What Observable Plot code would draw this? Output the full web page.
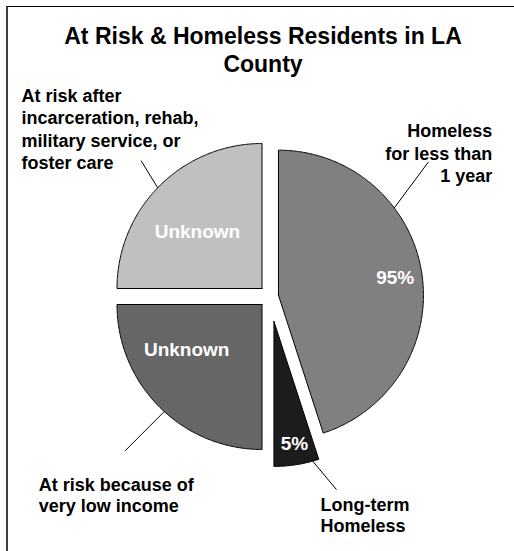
<!DOCTYPE html>
<html><head><meta charset="utf-8">
<script src="https://cdn.jsdelivr.net/npm/d3@7"></script>
<script src="https://cdn.jsdelivr.net/npm/@observablehq/plot@0.6"></script>
<style>
body{margin:0;background:#fff;font-family:"Liberation Sans",Arial,sans-serif;}
#wrap{position:relative;width:514px;height:551px;overflow:hidden;background:#fff;}
#frame{position:absolute;left:6px;top:6px;width:600px;height:600px;border-left:2px solid #404040;border-top:1px solid #000;}
#title{position:absolute;left:43px;width:440px;top:23px;text-align:center;font-weight:bold;font-size:23px;line-height:27.6px;color:#000;}
#chart{position:absolute;left:0;top:80px;}
</style></head><body>
<div id="wrap"><div id="frame"></div><div id="title"></div><div id="chart"></div></div>
<script>
// ---- data ----
const titleText = "At Risk & Homeless Residents in LA County";
const categories = ["Homeless for less than 1 year", "Long-term Homeless", "At risk because of very low income", "At risk after incarceration, rehab, military service, or foster care"];
const shares = [45, 5, 25, 25];
const valueLabels = ["95%", "5%", "Unknown", "Unknown"];
const outerLabels = ["Homeless\nfor less than\n1 year", "Long-term\nHomeless", "At risk because of\nvery low income", "At risk after\nincarceration, rehab,\nmilitary service, or\nfoster care"];

// ---- styles / layout ----
const fills = ["#808080", "#1c1c1c", "#666666", "#c0c0c0"];
const explode = [0.059, 0.174, 0.078, 0.078];           // fraction of radius
const labelAngle = [81.7, 170.5, 239, 311];             // degrees, clockwise from 12 o'clock
const labelRadius = [0.814, 0.853, 0.606, 0.59];
const leaderEdge = [53, 164.5, 222.4, 314];             // degrees
const leaderEnd = [[48.4, 1.383], [159.6, 1.238], [223.1, 1.383], [316.6, 1.214]];
const W = 514, H = 471, R = 145, CX = 269.5, CY = 216;  // CY within svg
const outerPos = [
  {frameAnchor: "top-right", dx: -22.3, dy: 101.7, textAnchor: "end", lineHeight: 1.25},
  {frameAnchor: "top-left", dx: 320, dy: 451.7, textAnchor: "start", lineHeight: 1.167},
  {frameAnchor: "top-left", dx: 38.3, dy: 431.7, textAnchor: "start", lineHeight: 1.167},
  {frameAnchor: "top-left", dx: 21, dy: 88.3, textAnchor: "start", lineHeight: 1.233}
];
const font = "Liberation Sans, Arial, sans-serif";

document.getElementById("title").textContent = titleText;

const rad = d => d * Math.PI / 180;
const arcs = d3.pie().sort(null).value(d => d)(shares);
const centers = arcs.map((a, i) => {
  const mid = (a.startAngle + a.endAngle) / 2;
  return {ox: explode[i] * Math.sin(mid), oy: explode[i] * Math.cos(mid)};
});
const slicePoints = arcs.map((a, i) => {
  const {ox, oy} = centers[i];
  const pts = [{x: ox, y: oy, slice: categories[i]}];
  const n = Math.max(2, Math.ceil((a.endAngle - a.startAngle) / rad(0.5)));
  for (let k = 0; k <= n; ++k) {
    const t = a.startAngle + (a.endAngle - a.startAngle) * k / n;
    pts.push({x: ox + Math.sin(t), y: oy + Math.cos(t), slice: categories[i]});
  }
  pts.push({x: ox, y: oy, slice: categories[i]});
  return pts;
});
const inner = valueLabels.map((t, i) => {
  const {ox, oy} = centers[i];
  const a = rad(labelAngle[i]);
  return {text: t, x: ox + labelRadius[i] * Math.sin(a), y: oy + labelRadius[i] * Math.cos(a)};
});
const leaders = categories.map((c, i) => {
  const {ox, oy} = centers[i];
  const e = rad(leaderEdge[i]);
  const o = rad(leaderEnd[i][0]), r = leaderEnd[i][1];
  return {x1: ox + Math.sin(e), y1: oy + Math.cos(e), x2: ox + r * Math.sin(o), y2: oy + r * Math.cos(o)};
});

const chart = Plot.plot({
  width: W, height: H,
  margin: 0,
  style: {background: "transparent", fontFamily: font},
  x: {domain: [-CX / R, (W - CX) / R], range: [0, W], axis: null},
  y: {domain: [(CY - H) / R, CY / R], range: [H, 0], axis: null},
  marks: [
    ...slicePoints.map((pts, i) => Plot.line(pts, {x: "x", y: "y", fill: fills[i], stroke: "#000", strokeWidth: 1, curve: "linear", strokeLinejoin: "miter"})),
    Plot.text(inner, {x: "x", y: "y", text: "text", fill: "#fff", fontSize: 19, fontWeight: "bold", fontFamily: font}),
    Plot.link(leaders, {x1: "x1", y1: "y1", x2: "x2", y2: "y2", stroke: "#000", strokeWidth: 1}),
    ...outerLabels.map((t, i) => Plot.text([t], {text: d => d, ...outerPos[i], lineAnchor: "bottom", fontSize: 18, fontWeight: "bold", fill: "#000", fontFamily: font}))
  ]
});
document.getElementById("chart").appendChild(chart);
</script>
</body></html>
